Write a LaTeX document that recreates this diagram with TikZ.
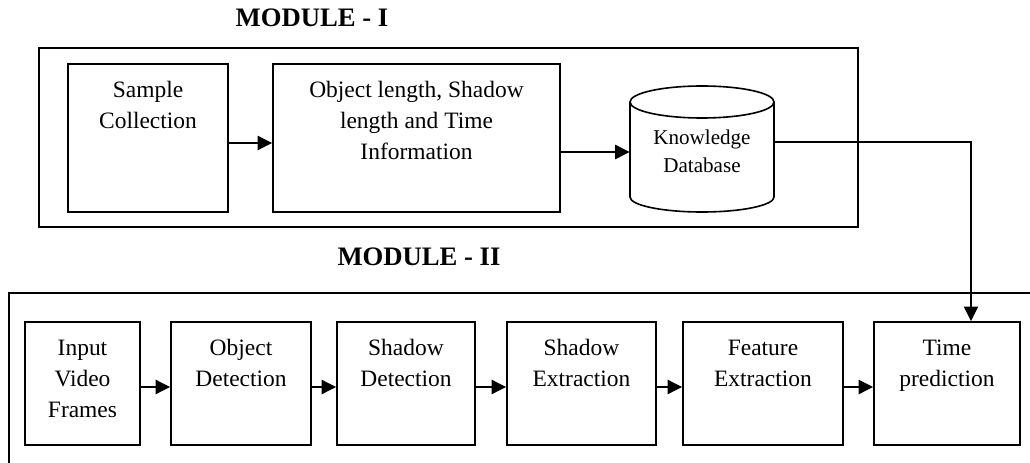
\documentclass[tikz,border=0pt]{standalone}
\usepackage{fontspec}
\setmainfont{Liberation Serif}
\usetikzlibrary{arrows.meta,fit,calc}
\begin{document}
\begin{tikzpicture}[x=0.75pt,y=-0.75pt,
  box/.style={inner sep=0pt,draw,line width=1.2pt},
  frame/.style={inner sep=0pt,draw,line width=1.4pt},
  holder/.style={inner sep=0pt},
  lbl/.style={inner sep=0pt,align=center,anchor=north,font=\fontsize{17.6}{23.25}\selectfont},
  dblbl/.style={inner sep=0pt,align=center,anchor=north,font=\fontsize{15.8}{21}\selectfont},
  head/.style={inner sep=0pt,anchor=base,font=\bfseries\fontsize{20}{24}\selectfont},
  tip/.style={-{Triangle[length=11pt,width=10.5pt]}},
  arr/.style={line width=2pt,tip},
  conn/.style={line width=1.5pt,tip},
  cyl/.style={line width=1.2pt}]
\clip (0,0) rectangle (1030,463);
% Module I
\node[head] (h1) at (312,27) {MODULE - I};
\node[frame,fit={(39,48)(858,227)}] (m1) {};
\node[box,fit={(68,64)(228,212)}] (sc) {};
\node[lbl] (sct) at ($(sc.north)+(0,12)$) {\strut Sample\\Collection};
\node[box,fit={(273,64)(560,212)}] (ol) {};
\node[lbl] (olt) at ($(ol.north)+(0,12)$) {\strut Object length, Shadow\\length and Time\\Information};
\node[holder,fit={(630,86)(774,212)}] (kb) {};
\draw[cyl] (702,102) ellipse [x radius=54pt, y radius=12pt];
\draw[cyl] (630,102) -- (630,197) .. controls (630,205.3) and (662.2,212) .. (702,212)
  .. controls (741.8,212) and (774,205.3) .. (774,197) -- (774,102);
\node[dblbl] (kbt) at (702,124.5) {\strut Knowledge\\Database};
% Module II
\node[head] (h2) at (419,265) {MODULE - II};
\node[frame,line width=1.8pt,fit={(9,293)(1080,500)}] (m2) {};
\node[box,fit={(25,322)(140,445)}] (ip) {};
\node[lbl] (ipt) at ($(ip.north)+(0,12)$) {\strut Input\\Video\\Frames};
\node[box,fit={(171,322)(311,445)}] (od) {};
\node[lbl] (odt) at ($(od.north)+(0,12)$) {\strut Object\\Detection};
\node[box,fit={(337,322)(475,445)}] (sd) {};
\node[lbl] (sdt) at ($(sd.north)+(0,12)$) {\strut Shadow\\Detection};
\node[box,fit={(507,322)(656,445)}] (se) {};
\node[lbl] (set) at ($(se.north)+(0,12)$) {\strut Shadow\\Extraction};
\node[box,fit={(683,322)(843,445)}] (fe) {};
\node[lbl] (fet) at ($(fe.north)+(0,12)$) {\strut Feature\\Extraction};
\node[box,fit={(874,322)(1020,445)}] (tp) {};
\node[lbl] (tpt) at ($(tp.north)+(0,12)$) {\strut Time\\prediction};
% connectors
\coordinate (ya) at (0,143);
\coordinate (yb) at (0,152);
\coordinate (yc) at (0,142);
\coordinate (xc) at (971,0);
\coordinate (yd) at (0,387);
\draw[arr] (sc.east |- ya) -- (ol.west |- ya);
\draw[arr] (ol.east |- yb) -- (kb.west |- yb);
\draw[conn] (kb.east |- yc) -| (tp.north -| xc);
\draw[arr] (ip.east |- yd) -- (od.west |- yd);
\draw[arr] (od.east |- yd) -- (sd.west |- yd);
\draw[arr] (sd.east |- yd) -- (se.west |- yd);
\draw[arr] (se.east |- yd) -- (fe.west |- yd);
\draw[arr] (fe.east |- yd) -- (tp.west |- yd);
\end{tikzpicture}
\end{document}
